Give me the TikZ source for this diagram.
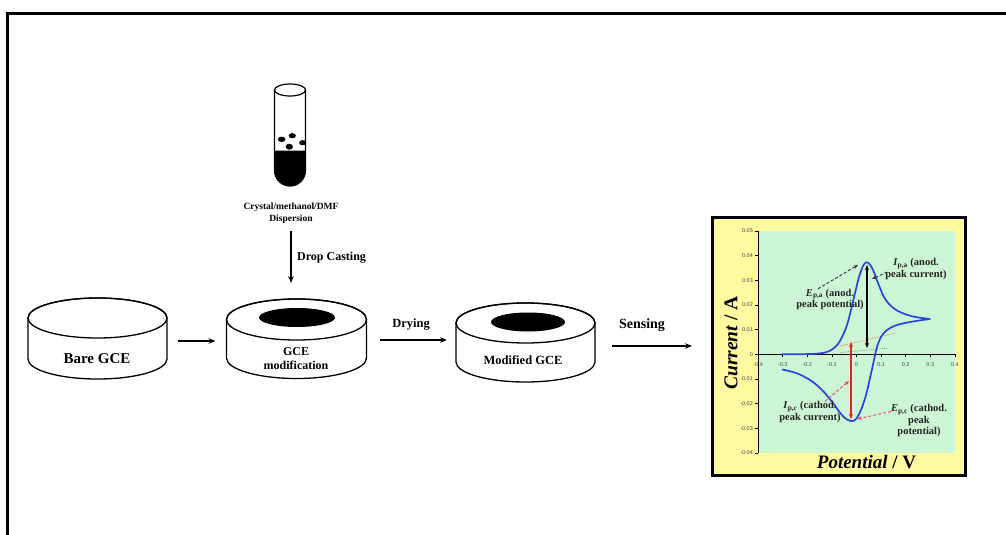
\documentclass[tikz,border=0pt]{standalone}
\usepackage{fontspec}
\setmainfont{Liberation Serif}
\setsansfont{Liberation Sans}
\usetikzlibrary{arrows.meta}

\definecolor{panelyellow}{RGB}{255,250,160}
\definecolor{plotgreen}{RGB}{204,245,214}
\definecolor{cvblue}{RGB}{40,70,220}
\definecolor{cvred}{RGB}{225,35,35}
\definecolor{basegreen}{RGB}{120,160,90}
\definecolor{basered}{RGB}{230,120,90}
\definecolor{ticklab}{RGB}{70,70,70}
\definecolor{anntext}{RGB}{35,35,35}

% electrode cylinder: centre x, top centre y, bottom centre y, x radius, y radius
\newcommand\gcecyl[5]{%
  \path[cyl] ({#1-#4},#2) -- ({#1-#4},#3)
    arc[start angle=180,end angle=360,x radius=#4pt,y radius=#5pt]
    -- ({#1+#4},#2)
    arc[start angle=0,end angle=180,x radius=#4pt,y radius=#5pt] -- cycle;
  \draw[cylline] (#1,#2) ellipse[x radius=#4pt,y radius=#5pt];
}

\begin{document}
\begin{tikzpicture}[x=1pt,y=-1pt,
  font=\bfseries,
  arr/.style={-{Stealth[length=7pt,width=5.5pt]}, line width=1.4pt},
  cyl/.style={draw=black, line width=1.3pt, fill=white},
  cylline/.style={draw=black, line width=1.3pt},
  gcebox/.style={minimum width=#1, minimum height=80pt, inner sep=0pt, outer sep=0pt},
  lbl/.style={inner sep=0pt, align=center},
  ticklbl/.style={inner sep=0pt, text=ticklab, font=\sffamily\mdseries\fontsize{5.5}{6.5}\selectfont},
  ann/.style={inner sep=0pt, align=center, text=anntext, font=\bfseries\fontsize{10.5}{11.5}\selectfont},
  dasharr/.style={densely dashed, line width=0.9pt, -{Stealth[length=4.5pt,width=3.5pt]}},
  dblarr/.style={line width=1.1pt, {Stealth[length=5pt,width=4pt]}-{Stealth[length=5pt,width=4pt]}},
  panel/.style={draw=black, line width=3pt, fill=panelyellow, minimum width=253pt,
    minimum height=258pt, inner sep=0pt, outer sep=0pt}
]
\useasboundingbox (0,0) rectangle (1006,535);

% outer frame (open at right and bottom)
\draw[line width=3pt] (7,535) -- (7,13.5) -- (1006,13.5);

% ---------- test tube with dispersion ----------
\fill[black] (274.5,150.5) -- (274.5,170.5)
  arc[start angle=180,end angle=360,radius=15.5pt] -- (305.5,150.5) -- cycle;
\draw[line width=1.2pt] (274.5,90) -- (274.5,170.5)
  arc[start angle=180,end angle=360,radius=15.5pt] -- (305.5,90);
\draw[line width=1.2pt, fill=white] (290,90) ellipse[x radius=15.5pt, y radius=6pt];
\fill (281.7,139.3) ellipse[x radius=3.8pt, y radius=2.7pt];
\fill (292.3,135.7) ellipse[x radius=3.6pt, y radius=2.6pt];
\fill (289.3,146.7) ellipse[x radius=3.6pt, y radius=3pt];
\fill (302.7,142.7) ellipse[x radius=3.6pt, y radius=2.6pt];
\node[lbl, font=\bfseries\fontsize{9.5}{12.3}\selectfont] (disp) at (291,213)
  {Crystal/methanol/DMF\\Dispersion};

% ---------- electrodes ----------
\gcecyl{97.5}{318}{359}{69.5}{20}
\gcecyl{296.5}{319.5}{358}{70}{20.5}
\fill (297,317.5) ellipse[x radius=38pt, y radius=9.5pt];
\gcecyl{525.5}{323}{362}{69.5}{20}
\fill (528,322) ellipse[x radius=37pt, y radius=9.5pt];

\node[gcebox=139pt] (bare) at (97.5,341) {};
\node[gcebox=140pt] (gcem) at (296.5,340) {};
\node[gcebox=139pt] (mgce) at (525.5,343) {};

\node[lbl, font=\bfseries\fontsize{15}{17}\selectfont] (barelbl) at (97,359) {Bare GCE};
\node[lbl, font=\bfseries\fontsize{12}{14}\selectfont] (gcemlbl) at (296,359) {GCE\\modification};
\node[lbl, font=\bfseries\fontsize{12.5}{14}\selectfont] (mgcelbl) at (523,360) {Modified GCE};

% ---------- CV panel ----------
\node[panel] (cv) at (838.5,346) {};
\fill[plotgreen] (758,231) rectangle (955,453);

% axes
\draw[line width=0.8pt] (758,231) -- (758,453);
\draw[line width=0.8pt] (758,354.3) -- (955,354.3);
\foreach \v in {0.05,0.04,0.03,0.02,0.01,0,-0.01,-0.02,-0.03,-0.04}{
  \draw[line width=0.6pt] (755,{354.3-(\v)*2467}) -- (758,{354.3-(\v)*2467});
  \node[ticklbl, anchor=east] at (753,{354.3-(\v)*2467}) {\v};
}
\foreach \v in {-0.4,-0.3,-0.2,-0.1,0,0.1,0.2,0.3,0.4}{
  \draw[line width=0.6pt] ({856.5+(\v)*246},354.3) -- ({856.5+(\v)*246},356.5);
  \node[ticklbl] at ({856.5+(\v)*246},365) {\v};
}

% baseline extrapolations
\draw[basegreen, densely dotted, line width=0.8pt] (841,352.5) -- (889,348);
\draw[basered, densely dotted, line width=0.8pt] (840,346) -- (896,333);

% voltammogram
\draw[cvblue, line width=1.7pt, line join=round]
  plot[smooth, tension=0.6] coordinates {
    (782,354.3) (800,354.2) (815,353.8) (825,352.5) (832,349.5) (838,344)
    (843,335) (847,325) (851,310) (855,293) (859,277) (863,266) (866,262.5)
    (869,263.5) (873,270) (878,283) (884,297) (891,306) (900,312)
    (913,316.5) (930,319)}
  -- plot[smooth, tension=0.6] coordinates {
    (930,319) (913,321.5) (897,325) (887,330) (881,337) (877,347) (874,360)
    (870,378) (866,395) (861,410) (856,419) (852,421) (847,419.5) (841,414)
    (833,403) (822,390) (810,380) (796,373) (782,369.5)};

% peak heights
\coordinate (ipatop) at (867,265);
\coordinate (ipabot) at (867,348);
\coordinate (ipctop) at (851,342);
\coordinate (ipcbot) at (851,419);
\draw[dblarr, black] (ipabot) -- (ipatop);
\draw[dblarr, cvred] (ipctop) -- (ipcbot);

% annotations
\node[ann] (ipa) at (916,269) {\textit{I}\textsubscript{p,a} (anod.\\peak current)};
\node[ann] (epa) at (830,299.5) {\textit{E}\textsubscript{p,a} (anod.\\peak potential)};
\node[ann] (ipc) at (810,412) {\textit{I}\textsubscript{p,c} (cathod.\\peak current)};
\node[ann] (epc) at (919,420.5) {\textit{E}\textsubscript{p,c} (cathod.\\peak\\potential)};

\coordinate (pka) at (858,265);
\coordinate (ipamid) at (872,279);
\coordinate (ipcmid) at (849,381);
\coordinate (pkc) at (857,419);
\draw[dasharr, black!80] ([xshift=-12pt]epa.north) -- (pka);
\draw[dasharr, black!80] ([xshift=2pt,yshift=-3pt]ipa.west) -- (ipamid);
\draw[dasharr, cvred!85] ([xshift=15pt]ipc.north) -- (ipcmid);
\draw[dasharr, cvred!85] ([yshift=9pt]epc.west) -- (pkc);

\node[inner sep=0pt, rotate=90, font=\bfseries\fontsize{19.5}{21}\selectfont] (ylab) at (731,343)
  {\textit{Current} / A};
\node[inner sep=0pt, font=\bfseries\fontsize{19}{21}\selectfont] (xlab) at (866.5,462)
  {\textit{Potential} / V};

% ---------- process arrows ----------
\draw[arr] ([yshift=-7pt]disp.south) -- ([yshift=17pt]gcem.north -| disp.south);
\node[lbl, font=\bfseries\fontsize{12}{14}\selectfont, anchor=west] (droplbl) at (297,258) {Drop Casting};

\draw[arr] ([xshift=11pt]bare.east) -- ([xshift=-11pt]gcem.west |- bare.east);
\draw[arr] ([xshift=13pt]gcem.east) -- ([xshift=-9pt]mgce.west |- gcem.east);
\node[lbl, font=\bfseries\fontsize{12.5}{14}\selectfont] (drylbl) at (411,325) {Drying};

\draw[arr] ([xshift=17pt]mgce.east |- cv.west) -- ([xshift=-20pt]cv.west);
\node[lbl, font=\bfseries\fontsize{14}{16}\selectfont] (senslbl) at (642,325) {Sensing};

\end{tikzpicture}
\end{document}
